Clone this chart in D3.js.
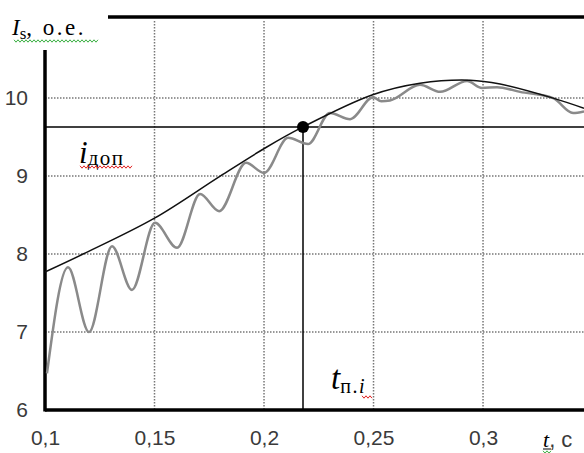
<!DOCTYPE html>
<html>
<head>
<meta charset="utf-8" />
<title></title>
<style>
html, body {
    margin: 0;
    padding: 0;
    background: #fff;
}
.tick text {
    font-family: "Liberation Sans", Arial, sans-serif;
}
</style>
</head>
<body>
<div id="chart"></div>
<script src="https://cdnjs.cloudflare.com/ajax/libs/d3/7.8.5/d3.min.js"></script>
<script>
// данные
var xTicks = [0.1, 0.15, 0.2, 0.25, 0.3]
var xTickLabels = ["0,1", "0,15", "0,2", "0,25", "0,3"]
var yTicks = [6, 7, 8, 9, 10]
var yTickLabels = ["6", "7", "8", "9", "10"]

// ток с колебаниями
var waveT = [0.1009, 0.1105, 0.1201, 0.1306, 0.1397, 0.1502, 0.1603, 0.1708, 0.1795, 0.1918, 0.2000,
             0.2110, 0.2201, 0.2301, 0.2393, 0.2498, 0.2535, 0.2575, 0.2712, 0.2804, 0.2927, 0.2995,
             0.3064, 0.3169, 0.3320, 0.3411, 0.3461]
var waveI = [6.47, 7.83, 7.00, 8.10, 7.54, 8.40, 8.08, 8.77, 8.55, 9.17, 9.04,
             9.49, 9.41, 9.81, 9.73, 10.01, 9.96, 9.97, 10.17, 10.08, 10.22, 10.13,
             10.14, 10.08, 10.00, 9.81, 9.83]

// огибающая
var envT = [0.1, 0.1174, 0.15, 0.18, 0.2005, 0.2178, 0.2493, 0.2712, 0.2941, 0.3078, 0.332, 0.3461]
var envI = [7.77, 8.00, 8.46, 9.00, 9.36, 9.63, 10.04, 10.19, 10.23, 10.18, 10.00, 9.87]

var iDop = 9.63
var tP = 0.2178

var W = 584, H = 453
var x = d3.scaleLinear().domain([0.1, 0.3461]).range([45, 584])
var y = d3.scaleLinear().domain([6, 11.04]).range([410, 17])

var svg = d3.select("#chart").append("svg")
    .attr("width", W)
    .attr("height", H)

// сетка
var grid = svg.append("g").attr("class", "grid")
grid.selectAll("line.v")
    .data(xTicks.slice(1))
    .enter().append("line")
    .attr("x1", function(d) { return x(d) })
    .attr("x2", function(d) { return x(d) })
    .attr("y1", 21)
    .attr("y2", y(6))
    .attr("stroke", "#777")
    .attr("stroke-width", 1.5)
    .attr("stroke-dasharray", "1.5,1.5")
grid.selectAll("line.h")
    .data(yTicks.slice(1))
    .enter().append("line")
    .attr("x1", x(0.1))
    .attr("x2", W)
    .attr("y1", function(d) { return y(d) })
    .attr("y2", function(d) { return y(d) })
    .attr("stroke", "#777")
    .attr("stroke-width", 1.5)
    .attr("stroke-dasharray", "1.5,1.5")

// оси
var xAxis = d3.axisBottom(x).tickValues(xTicks).tickSize(0).tickPadding(20)
    .tickFormat(function(d, i) { return xTickLabels[i] })
var gx = svg.append("g").attr("transform", "translate(0," + y(6) + ")").call(xAxis)
gx.select(".domain").remove()
gx.selectAll("text").attr("font-size", 21).attr("fill", "#3a3a3a")

var yAxis = d3.axisLeft(y).tickValues(yTicks).tickSize(0).tickPadding(17)
    .tickFormat(function(d, i) { return yTickLabels[i] })
var gy = svg.append("g").attr("transform", "translate(" + x(0.1) + ",0)").call(yAxis)
gy.select(".domain").remove()
gy.selectAll("text").attr("font-size", 21).attr("fill", "#3a3a3a")

svg.append("line")
    .attr("x1", x(0.1)).attr("x2", W)
    .attr("y1", y(6)).attr("y2", y(6))
    .attr("stroke", "#000").attr("stroke-width", 3.5)
svg.append("line")
    .attr("x1", x(0.1)).attr("x2", x(0.1))
    .attr("y1", 50).attr("y2", y(6) + 1.5)
    .attr("stroke", "#000").attr("stroke-width", 3.5)
svg.append("line")
    .attr("x1", 108).attr("x2", W)
    .attr("y1", 17).attr("y2", 17)
    .attr("stroke", "#000").attr("stroke-width", 3.5)

// допустимый ток и время
svg.append("line")
    .attr("x1", x(0.1)).attr("x2", W)
    .attr("y1", y(iDop)).attr("y2", y(iDop))
    .attr("stroke", "#000").attr("stroke-width", 1.5)
svg.append("line")
    .attr("x1", x(tP)).attr("x2", x(tP))
    .attr("y1", y(iDop)).attr("y2", y(6))
    .attr("stroke", "#000").attr("stroke-width", 1.5)

// кривые
var wave = d3.zip(waveT, waveI)
var env = d3.zip(envT, envI)

var lineWave = d3.line()
    .x(function(d) { return x(d[0]) })
    .y(function(d) { return y(d[1]) })
    .curve(d3.curveMonotoneX)
var lineEnv = d3.line()
    .x(function(d) { return x(d[0]) })
    .y(function(d) { return y(d[1]) })
    .curve(d3.curveCatmullRom.alpha(0.5))

svg.append("path")
    .attr("d", lineWave(wave))
    .attr("fill", "none")
    .attr("stroke", "#8a8a8a")
    .attr("stroke-width", 2.5)
svg.append("path")
    .attr("d", lineEnv(env))
    .attr("fill", "none")
    .attr("stroke", "#111")
    .attr("stroke-width", 1.5)

svg.append("circle")
    .attr("cx", x(tP)).attr("cy", y(iDop))
    .attr("r", 6)
    .attr("fill", "#000")

// подписи
var serif = "'Liberation Serif', 'Times New Roman', serif"

var lblY = svg.append("text")
    .attr("x", 12).attr("y", 35)
    .attr("font-family", serif).attr("font-size", 23).attr("fill", "#000")
lblY.append("tspan").attr("font-style", "italic").text("I")
lblY.append("tspan").attr("font-size", 17).attr("dy", 4).text("s")
lblY.append("tspan").attr("dy", -4).attr("letter-spacing", 2.5).text(", o.e.")

var lblX = svg.append("text")
    .attr("x", 543).attr("y", 447)
    .attr("font-family", "'Liberation Sans', Arial, sans-serif").attr("font-size", 22).attr("fill", "#3a3a3a")
lblX.append("tspan").attr("font-style", "italic").attr("font-family", serif).attr("fill", "#000").text("t")
lblX.append("tspan").text(", c")
svg.append("line")
    .attr("x1", 543).attr("x2", 551).attr("y1", 449).attr("y2", 449)
    .attr("stroke", "#000").attr("stroke-width", 1)

var lblI = svg.append("text")
    .attr("x", 79).attr("y", 163)
    .attr("font-family", serif).attr("font-size", 31).attr("fill", "#000")
lblI.append("tspan").attr("font-style", "italic").text("i")
lblI.append("tspan").attr("font-size", 21).attr("dy", 2).attr("letter-spacing", 1.5).text("доп")

var lblT = svg.append("text")
    .attr("x", 331).attr("y", 389)
    .attr("font-family", serif).attr("font-size", 33).attr("fill", "#000")
lblT.append("tspan").attr("font-style", "italic").text("t")
lblT.append("tspan").attr("font-size", 20).attr("dy", 4).attr("letter-spacing", 1.5).text("п.")
lblT.append("tspan").attr("font-size", 20).attr("font-style", "italic").text("i")

// волнистые подчёркивания
function wavy(x0, x1, yy, color) {
    var pts = []
    for (var xx = x0, k = 0; xx <= x1; xx += 2, k++) pts.push([xx, yy + (k % 2 ? 1.2 : -1.2)])
    svg.append("path")
        .attr("d", d3.line()(pts))
        .attr("fill", "none")
        .attr("stroke", color)
        .attr("stroke-width", 1)
}
wavy(14, 98, 41, "#3cb043")
wavy(80, 132, 167, "#e02020")
wavy(362, 372, 397, "#e02020")
wavy(543, 551, 452, "#3cb043")
</script>
</body>
</html>
